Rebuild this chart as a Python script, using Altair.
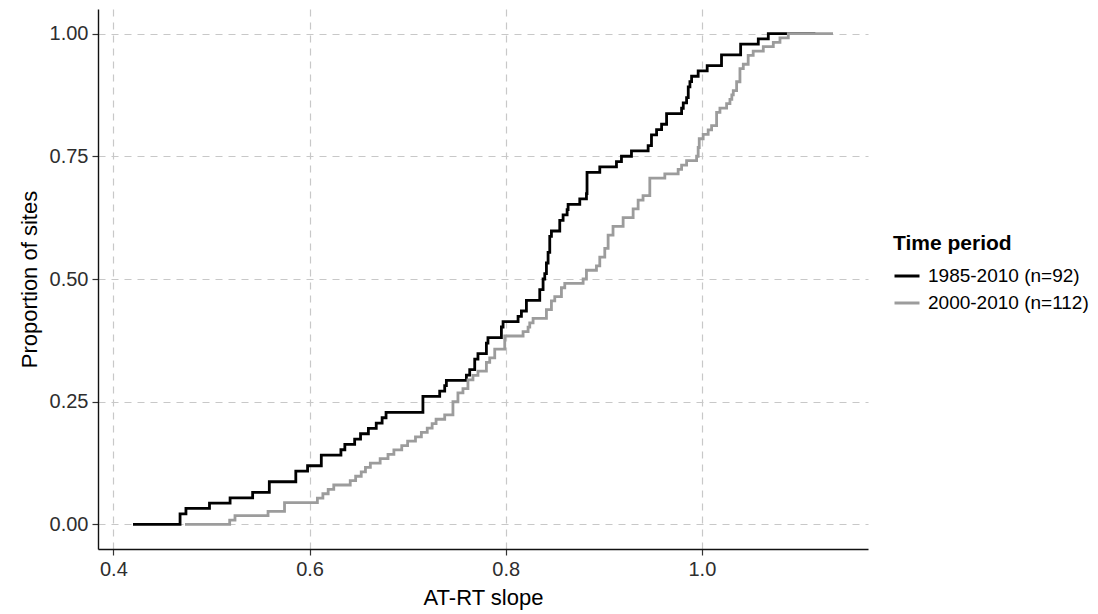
import statistics
import altair as alt
import pandas as pd

# ---- data ----
period_labels = ["1985-2010 (n=92)", "2000-2010 (n=112)"]
line_colors = ["#000000", "#9c9c9c"]

# AT-RT slopes, period 1985-2010 (92 sites)
slopes_1985 = [
    0.468, 0.468, 0.474, 0.498, 0.519, 0.542, 0.559, 0.559, 0.586, 0.586,
    0.598, 0.612, 0.612, 0.632, 0.636, 0.646, 0.652, 0.660, 0.668, 0.674,
    0.678, 0.7156, 0.7156, 0.7156, 0.7327, 0.7378, 0.7395, 0.7599, 0.7633,
    0.7684, 0.7684, 0.7717, 0.7803, 0.7803, 0.7819, 0.7956, 0.7956, 0.7973,
    0.8126, 0.816, 0.8211, 0.8211, 0.8347, 0.8347, 0.8381, 0.8381, 0.8398,
    0.8415, 0.8415, 0.8432, 0.8432, 0.8449, 0.8449, 0.8449, 0.8466, 0.8551,
    0.8551, 0.8585, 0.8626, 0.8636, 0.8755, 0.8823, 0.8829, 0.8829, 0.8829,
    0.8829, 0.8959, 0.9129, 0.918, 0.9282, 0.9452, 0.9486, 0.9486, 0.9538,
    0.9589, 0.964, 0.964, 0.9793, 0.981, 0.9844, 0.9861, 0.9861, 0.9878,
    0.9895, 0.9962, 1.0054, 1.02, 1.02, 1.0395, 1.0395, 1.0575, 1.0677,
]

# AT-RT slopes, period 2000-2010 (112 sites)
slopes_2000 = [
    0.5186, 0.524, 0.5577, 0.5745, 0.5745, 0.608, 0.6136, 0.619, 0.6247,
    0.6415, 0.647, 0.6527, 0.657, 0.662, 0.672, 0.680, 0.686, 0.694, 0.700,
    0.708, 0.714, 0.720, 0.725, 0.729, 0.7378, 0.7462, 0.7462, 0.7462,
    0.7513, 0.7513, 0.7564, 0.7615, 0.7615, 0.7666, 0.7717, 0.7803, 0.7803,
    0.7837, 0.7888, 0.7888, 0.799, 0.799, 0.799, 0.8177, 0.8228, 0.8245,
    0.8279, 0.8415, 0.8415, 0.8466, 0.8466, 0.85, 0.8568, 0.8568, 0.8602,
    0.8789, 0.8823, 0.8823, 0.8925, 0.8959, 0.8959, 0.901, 0.901, 0.9044,
    0.9044, 0.9044, 0.9094, 0.9094, 0.9197, 0.9197, 0.9299, 0.9299, 0.935,
    0.935, 0.94, 0.9469, 0.9469, 0.9469, 0.9469, 0.9622, 0.9758, 0.9793,
    0.9844, 0.9946, 0.9962, 0.9962, 0.9973, 0.9973, 1.0013, 1.0064, 1.0099,
    1.015, 1.015, 1.015, 1.0184, 1.0252, 1.0286, 1.0305, 1.032, 1.0354,
    1.0354, 1.0388, 1.0388, 1.0388, 1.0422, 1.0472, 1.0472, 1.0523, 1.0626,
    1.0728, 1.0796, 1.0881,
]

x_ticks = [0.4, 0.6, 0.8, 1.0]
y_ticks = [0.0, 0.25, 0.5, 0.75, 1.0]


def ecdf_rows(values, label):
    """Empirical CDF the way ggplot2's (old) stat_ecdf builds it."""
    xs = sorted(set(values))
    n = len(values)
    ys = [sum(1 for v in values if v <= x) / n for x in xs]
    diffs = [b - a for a, b in zip(xs[:-1], xs[1:])]
    dr = max(0.08 * (xs[-1] - xs[0]), statistics.median(diffs))
    xs = [xs[0] - dr] + xs + [xs[-1] + dr]
    ys = [0.0] + ys + [1.0]
    return [{"slope": x, "prop": y, "period": label, "idx": i}
            for i, (x, y) in enumerate(zip(xs, ys))]


df_a = pd.DataFrame(ecdf_rows(slopes_1985, period_labels[0]))
df_b = pd.DataFrame(ecdf_rows(slopes_2000, period_labels[1]))

lo = min(df_a.slope.min(), df_b.slope.min())
hi = max(df_a.slope.max(), df_b.slope.max())
pad = 0.05 * (hi - lo)

x_enc = alt.X(
    "slope:Q",
    scale=alt.Scale(domain=[lo - pad, hi + pad], nice=False, zero=False),
    axis=alt.Axis(values=x_ticks, format=".1f", title="AT-RT slope"),
)
y_enc = alt.Y(
    "prop:Q",
    scale=alt.Scale(domain=[-0.05, 1.05], nice=False, zero=False),
    axis=alt.Axis(values=y_ticks, format=".2f", title="Proportion of sites"),
)
color_enc = alt.Color(
    "period:N",
    scale=alt.Scale(domain=period_labels, range=line_colors),
    legend=alt.Legend(
        title="Time period", orient="none", legendX=795, legendY=224,
        symbolType="stroke", symbolStrokeWidth=3, symbolSize=625,
        labelFontSize=19, titleFontSize=21, titleFontWeight="bold",
        titleColor="#000000", labelColor="#000000", rowPadding=3,
        titlePadding=8, labelOffset=7, labelLimit=0, titleLimit=0,
    ),
)


def layer(df):
    return alt.Chart(df).mark_line(
        interpolate="step-after", strokeWidth=2.8, strokeCap="butt"
    ).encode(x=x_enc, y=y_enc, color=color_enc, order="idx:Q")


chart = (
    alt.layer(layer(df_a), layer(df_b))
    .properties(
        width=770, height=540,
        autosize=alt.AutoSizeParams(type="none"),
        padding={"left": 98, "top": 9, "right": 230, "bottom": 65},
        view=alt.ViewBackground(stroke="transparent", strokeWidth=0),
    )
    .configure_view(stroke="transparent", strokeWidth=0)
    .configure(font="Liberation Sans", background="white")
    .configure_axis(
        grid=True, gridColor="#c8c8c8", gridDash=[7, 6], gridWidth=1.2,
        domainColor="#111111", domainWidth=1.4,
        tickColor="#333333", tickSize=6, tickWidth=1.2,
        labelFontSize=20, labelColor="#2e2e2e", labelPadding=4,
        titleFontSize=22, titleFontWeight="normal", titleColor="#000000",
    )
    .configure_axisX(titlePadding=8)
    .configure_axisY(titlePadding=8)
)

chart.save("out.html", embed_options={"renderer": "svg", "actions": False})
